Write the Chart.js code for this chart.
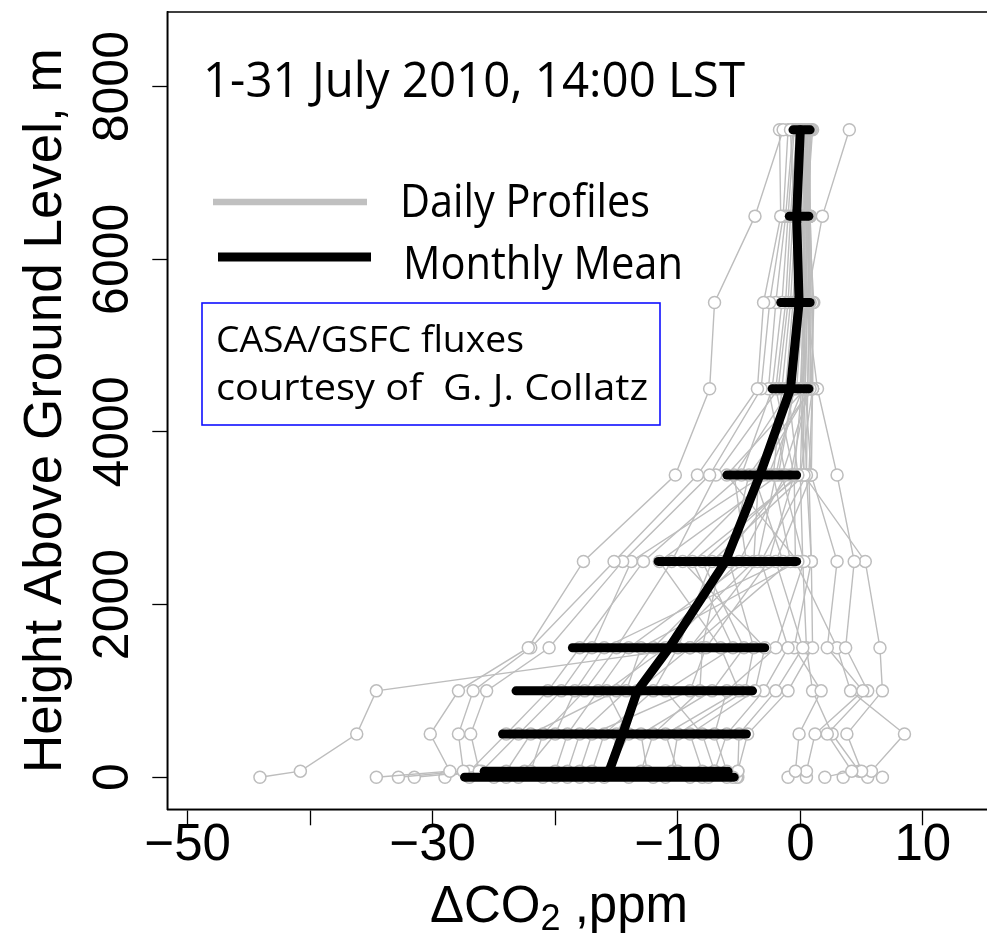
<!DOCTYPE html>
<html>
<head>
<meta charset="utf-8">
<script src="https://cdn.jsdelivr.net/npm/chart.js@4.4.1/dist/chart.umd.min.js"></script>
<style>
  html, body { margin: 0; padding: 0; background: #fff; overflow: hidden; }
  #wrap { width: 1010px; height: 934px; }
</style>
</head>
<body>
<div id="wrap"><canvas id="chart" width="1010" height="934"></canvas></div>
<script>
// heights (m above ground) of the sampled levels
const heights = [0, 70, 500, 1000, 1500, 2500, 3500, 4500, 5500, 6500, 7500];

// monthly mean profile and its +/- spread bars (ppm)
const monthlyMean = [-16.0, -15.6, -14.5, -13.3, -10.7, -6.1, -3.3, -0.8, -0.1, -0.3, 0.0];
const spreadLow   = [-27.4, -25.8, -24.3, -23.2, -18.6, -11.6, -6.0, -2.3, -1.6, -0.9, -0.6];
const spreadHigh  = [-5.4, -5.9, -4.4, -3.9, -2.9, -0.3, -0.3, 0.7, 0.8, 0.7, 0.8];

// one row per day, values at the heights above
const dailyProfiles = [
  [-44.1, -40.8, -36.2, -34.6, -9.0, -3.5, -2.0, -0.5, -0.3, -0.5, -0.8],
  [-34.6, -28.6, -30.2, -27.9, -22.2, -17.7, -10.2, -7.4, -7.0, -3.7, -1.4],
  [-32.8, -27.5, -27.9, -26.7, -22.0, -15.2, -8.4, -3.5, -3.0, -1.6, -1.7],
  [-31.5, -26.2, -26.9, -25.6, -20.5, -14.5, -7.4, -3.2, -2.5, -1.4, -1.0],
  [-25.0, -24.0, -22.0, -15.0, -12.0, -5.0, -1.2, -2.6, -2.0, -1.2, -0.6],
  [-29.0, -27.0, -24.0, -20.6, -18.0, -12.8, -4.8, -2.3, -1.5, -1.0, -0.5],
  [-19.0, -18.0, -17.0, -9.0, -7.7, -2.6, -0.5, -2.0, -1.2, -0.8, -0.3],
  [-23.0, -22.0, -21.0, -17.6, -15.0, -10.5, -6.9, -1.8, -1.0, -0.6, -0.2],
  [-16.0, -15.5, -15.0, -13.3, -9.0, -0.8, -2.2, -1.5, -0.8, -0.4, 0.0],
  [-27.0, -26.0, -23.0, -19.5, -17.0, -13.8, -3.0, -1.2, -0.6, -0.2, 0.1],
  [-12.0, -12.5, -13.0, -7.2, -4.6, -8.0, -0.2, -1.0, -0.4, -0.1, 0.2],
  [-21.0, -20.0, -19.0, -16.5, -14.0, -4.4, -5.4, -0.8, -0.2, 0.0, 0.2],
  [-9.0, -10.0, -11.0, -5.0, -6.5, -11.5, -1.8, -0.5, 0.0, 0.2, 0.3],
  [-24.0, -22.5, -20.0, -18.4, -16.0, -1.4, -3.8, -0.3, 0.2, 0.3, 0.4],
  [-18.0, -17.0, -16.0, -12.0, -10.0, -7.2, 0.3, 0.0, 0.3, 0.4, 0.5],
  [-7.5, -8.0, -9.0, -3.7, -2.9, -9.6, -2.6, 0.2, 0.4, 0.5, 0.5],
  [-20.0, -19.0, -18.0, -14.2, -13.0, -0.2, -6.0, 0.4, 0.5, 0.6, 0.6],
  [-14.0, -13.0, -12.0, -8.2, -8.0, -6.5, -0.8, 0.6, 0.7, 0.7, 0.6],
  [-17.0, -15.5, -14.0, -15.8, -11.0, -3.8, -3.4, 0.8, 0.8, 0.8, 0.7],
  [-6.0, -7.0, -8.0, -11.0, -5.5, -8.8, 0.0, 1.0, 1.0, 0.8, 0.8],
  [-11.0, -10.5, -10.0, -4.5, -3.8, -5.8, -4.2, 0.9, 1.1, 0.7, 0.8],
  [-5.5, -6.0, -7.0, -6.0, -2.0, 0.3, -1.5, 0.8, 0.9, 0.6, 0.9],
  [-8.0, -7.0, -6.0, -3.0, -1.0, -3.2, 0.5, 0.6, 0.8, 0.5, 1.0],
  [-5.2, -5.1, -5.0, -2.0, 0.2, -2.0, 0.9, 1.0, 1.0, 0.8, 0.5],
  [-5.1, -5.1, -4.3, -1.0, 1.0, 0.9, 0.7, 1.0, 0.6, 0.7, 0.6],
  [-1.0, -0.4, -0.1, 1.7, -0.5, 0.9, 0.5, 0.3, 0.4, 0.6, 0.3],
  [0.5, 0.5, 1.2, 5.1, 2.2, 3.0, 0.9, 0.4, 0.6, 0.8, 0.5],
  [2.0, 4.2, 2.2, 5.5, 3.7, 4.4, 3.0, 1.4, 0.5, 1.8, 4.0],
  [3.5, 5.0, 3.8, 6.7, 6.5, 5.3, 0.3, 0.2, 0.3, 0.4, 0.2],
  [5.5, 5.8, 8.5, 4.1, 3.0, -0.4, -0.5, 0.1, 0.2, 0.3, 0.3],
  [6.7, 4.8, 2.6, 1.0, 0.5, 0.2, 0.0, 0.2, 0.4, 0.6, 0.4]
];

// axis ticks
const xTicks = [-50, -40, -30, -20, -10, 0, 10];
const xLabelled = [-50, -30, -10, 0, 10];
const yTicks = [0, 2000, 4000, 6000, 8000];

const AXIS_FONT = "'Liberation Sans', Arial, Helvetica, sans-serif";
const NOTE_FONT = "'Open Sans', 'Noto Sans', sans-serif";
const GREY = '#bdbdbd';

const datasets = [];

// mean line on top
datasets.push({
    data: heights.map((h, i) => ({ x: monthlyMean[i], y: h })),
    showLine: true,
    borderColor: '#000',
    borderWidth: 9,
    borderCapStyle: 'round',
    borderJoinStyle: 'round',
    pointRadius: 0,
    order: 0
});

// spread bars at every level
heights.forEach((h, i) => {
    datasets.push({
        data: [{ x: spreadLow[i], y: h }, { x: spreadHigh[i], y: h }],
        showLine: true,
        borderColor: '#000',
        borderWidth: 9,
        borderCapStyle: 'round',
        pointRadius: 0,
        order: 1
    });
});

// daily profiles underneath
dailyProfiles.forEach(p => {
    datasets.push({
        data: heights.map((h, i) => ({ x: p[i], y: h })),
        showLine: true,
        borderColor: GREY,
        borderWidth: 1.4,
        pointRadius: 6,
        pointBorderWidth: 1.5,
        pointBorderColor: GREY,
        pointBackgroundColor: '#fff',
        order: 2
    });
});

// draw a line of text stretched to a given width
function fitText(ctx, text, x, baseline, width, size, family) {
    ctx.font = `${size}px ${family}`;
    const w = ctx.measureText(text).width;
    ctx.save();
    ctx.translate(x, baseline);
    ctx.scale(width / w, 1);
    ctx.textAlign = 'left';
    ctx.textBaseline = 'alphabetic';
    ctx.fillText(text, 0, 0);
    ctx.restore();
}

const annotations = {
    id: 'annotations',
    afterDraw(chart) {
        const { ctx, chartArea: a } = chart;
        ctx.save();
        // plot frame
        ctx.strokeStyle = '#000';
        ctx.lineWidth = 1.5;
        ctx.strokeRect(a.left, a.top, a.right - a.left, a.bottom - a.top);

        ctx.fillStyle = '#000';
        fitText(ctx, '1-31 July 2010, 14:00 LST', 203, 97, 542, 50, NOTE_FONT);

        // legend
        ctx.lineCap = 'butt';
        ctx.strokeStyle = '#c0c0c0';
        ctx.lineWidth = 6.5;
        ctx.beginPath(); ctx.moveTo(213, 202); ctx.lineTo(367, 202); ctx.stroke();
        ctx.strokeStyle = '#000';
        ctx.lineWidth = 9;
        ctx.beginPath(); ctx.moveTo(218, 257); ctx.lineTo(371, 257); ctx.stroke();
        fitText(ctx, 'Daily Profiles', 400, 217, 250, 46, NOTE_FONT);
        fitText(ctx, 'Monthly Mean', 403, 279, 280, 46, NOTE_FONT);

        // credit box
        ctx.strokeStyle = '#1010ff';
        ctx.lineWidth = 1.6;
        ctx.strokeRect(202, 303, 458, 122);
        fitText(ctx, 'CASA/GSFC fluxes', 216, 352, 308, 36, NOTE_FONT);
        fitText(ctx, 'courtesy of  G. J. Collatz', 216, 400, 432, 36, NOTE_FONT);

        // x axis title with subscript
        ctx.textBaseline = 'alphabetic';
        ctx.textAlign = 'left';
        const base = 922;
        ctx.font = `51px ${AXIS_FONT}`;
        const p1 = '\u0394CO', p3 = ' ,ppm';
        const w1 = ctx.measureText(p1).width;
        const w3 = ctx.measureText(p3).width;
        ctx.font = `36px ${AXIS_FONT}`;
        const w2 = ctx.measureText('2').width;
        let x = 559 - (w1 + w2 + w3) / 2;
        ctx.font = `51px ${AXIS_FONT}`;
        ctx.fillText(p1, x, base);
        ctx.font = `36px ${AXIS_FONT}`;
        ctx.fillText('2', x + w1, base + 8);
        ctx.font = `51px ${AXIS_FONT}`;
        ctx.fillText(p3, x + w1 + w2, base);
        ctx.restore();
    }
};

new Chart(document.getElementById('chart'), {
    type: 'scatter',
    data: { datasets: datasets },
    options: {
        responsive: false,
        animation: false,
        events: [],
        layout: { padding: { top: 8, right: 4, left: 0, bottom: 0 } },
        plugins: { legend: { display: false }, tooltip: { enabled: false } },
        scales: {
            x: {
                type: 'linear',
                min: -51.66,
                max: 16.5,
                afterFit: s => { s.height = 124.7; },
                afterBuildTicks: s => { s.ticks = xTicks.map(v => ({ value: v })); },
                ticks: {
                    autoSkip: false,
                    maxRotation: 0,
                    padding: -10,
                    color: '#000',
                    font: { family: AXIS_FONT, size: 51 },
                    callback: v => xLabelled.includes(v) ? String(v).replace('-', '\u2212') : ''
                },
                grid: { drawOnChartArea: false, tickLength: 16, tickColor: '#000', tickWidth: 1.3 },
                border: { color: '#000', width: 1.5 }
            },
            y: {
                type: 'linear',
                min: -372,
                max: 8865,
                afterFit: s => { s.width = 167.3; },
                afterBuildTicks: s => { s.ticks = yTicks.map(v => ({ value: v })); },
                ticks: {
                    autoSkip: false,
                    minRotation: 90,
                    maxRotation: 90,
                    crossAlign: 'center',
                    padding: -18,
                    color: '#000',
                    font: { family: AXIS_FONT, size: 50 },
                    callback: v => String(v)
                },
                grid: { drawOnChartArea: false, tickLength: 15, tickColor: '#000', tickWidth: 1.3 },
                border: { color: '#000', width: 1.5 },
                title: {
                    display: true,
                    text: 'Height Above Ground Level, m',
                    color: '#000',
                    font: { family: AXIS_FONT, size: 53, lineHeight: 1.2 },
                    padding: { top: 15, bottom: 0 }
                }
            }
        }
    },
    plugins: [annotations]
});
</script>
</body>
</html>
